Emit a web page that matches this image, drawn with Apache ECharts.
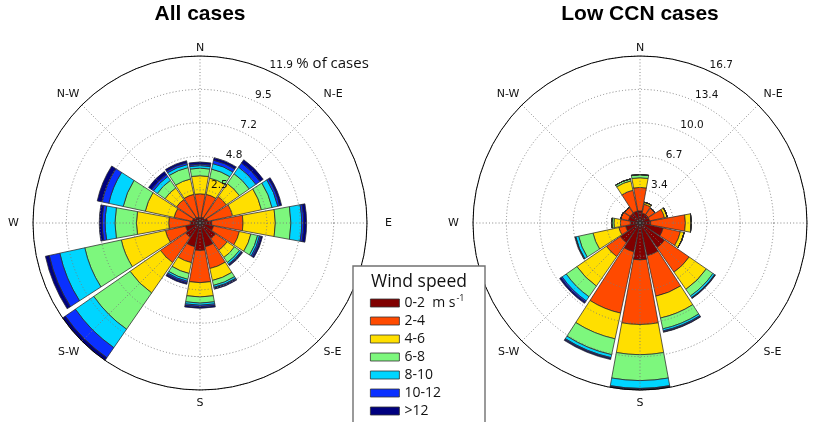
<!DOCTYPE html>
<html>
<head>
<meta charset="utf-8">
<script src="https://cdn.jsdelivr.net/npm/echarts@6/dist/echarts.min.js"></script>
<style>
  html, body { margin: 0; padding: 0; background: #ffffff; }
  #chart { width: 825px; height: 422px; }
</style>
</head>
<body>
<div id="chart"></div>
<script>
// Wind direction sectors (clockwise from north) and compass labels
const directions = ['N', 'NNE', 'NE', 'ENE', 'E', 'ESE', 'SE', 'SSE',
                    'S', 'SSW', 'SW', 'WSW', 'W', 'WNW', 'NW', 'NNW'];
const compassLabels = ['N', 'N-E', 'E', 'S-E', 'S', 'S-W', 'W', 'N-W'];

// Wind speed classes and their colours
const speedClasses = ['0-2', '2-4', '4-6', '6-8', '8-10', '10-12', '>12'];
const speedColors = ['#800000', '#ff4a00', '#ffdf00', '#7df77d', '#00d5ff', '#0a30ff', '#00007f'];

// All cases: % of cases per direction for each speed class
const allSpeed0to2   = [0.36, 0.43, 0.43, 0.56, 0.84, 0.98, 1.35, 1.73, 1.96, 1.73, 1.24, 1.05, 0.70, 0.56, 0.50, 0.43];
const allSpeed2to4   = [1.72, 1.66, 1.85, 1.82, 2.23, 1.89, 1.00, 1.59, 2.29, 1.16, 2.19, 1.47, 1.53, 1.33, 1.53, 1.66];
const allSpeed4to6   = [1.29, 1.18, 1.14, 2.10, 2.30, 0.84, 0.64, 0.87, 1.02, 0.79, 2.63, 3.22, 2.30, 2.10, 1.01, 1.12];
const allSpeed6to8   = [0.54, 0.66, 0.85, 0.77, 1.11, 0.49, 0.43, 0.36, 0.44, 0.43, 3.14, 2.66, 1.53, 1.61, 0.66, 0.83];
const allSpeed8to10  = [0.18, 0.40, 0.57, 0.42, 0.77, 0.14, 0.14, 0.14, 0.15, 0.14, 1.60, 1.82, 0.70, 1.05, 0.33, 0.22];
const allSpeed10to12 = [0.11, 0.25, 0.36, 0.14, 0.14, 0.11, 0.07, 0.07, 0.11, 0.11, 0.87, 0.77, 0.21, 0.49, 0.17, 0.14];
const allSpeedOver12 = [0.15, 0.18, 0.28, 0.14, 0.21, 0.11, 0.07, 0.07, 0.11, 0.11, 0.23, 0.28, 0.21, 0.35, 0.26, 0.14];

// Low CCN cases: % of cases per direction for each speed class
const lowSpeed0to2   = [1.22, 1.01, 1.00, 0.98, 1.07, 2.36, 2.99, 3.34, 3.69, 2.94, 2.39, 1.47, 0.98, 1.18, 1.20, 1.22];
const lowSpeed2to4   = [2.34, 0.91, 0.80, 1.52, 3.47, 1.77, 2.99, 4.15, 6.46, 6.28, 1.69, 0.69, 0.98, 0.79, 0.70, 2.13];
const lowSpeed4to6   = [0.97, 0.20, 0, 0.29, 0.59, 0.39, 2.09, 2.23, 3.02, 2.63, 3.59, 2.65, 0.65, 0, 0, 0.96];
const lowSpeed6to8   = [0.31, 0, 0, 0, 0, 0, 0.80, 1.11, 2.59, 1.62, 1.30, 1.47, 0.22, 0, 0, 0.20];
const lowSpeed8to10  = [0, 0, 0, 0, 0, 0, 0.20, 0.20, 0.78, 0.30, 0.50, 0.29, 0, 0, 0, 0];
const lowSpeed10to12 = [0, 0, 0, 0, 0, 0, 0.05, 0.10, 0.07, 0.10, 0.15, 0.05, 0, 0, 0, 0];
const lowSpeedOver12 = [0, 0, 0, 0, 0, 0, 0.05, 0.05, 0.09, 0.10, 0.15, 0.05, 0, 0, 0, 0];

// Radial scale of each rose and the ring labels printed on it
const allMax = 11.9, allStep = 2.38;
const allRingLabels = ['2.5', '4.8', '7.2', '9.5', '11.9'];
const lowMax = 16.7, lowStep = 3.34;
const lowRingLabels = ['3.4', '6.7', '10.0', '13.4', '16.7'];

const allSeriesData = [allSpeed0to2, allSpeed2to4, allSpeed4to6, allSpeed6to8, allSpeed8to10, allSpeed10to12, allSpeedOver12];
const lowSeriesData = [lowSpeed0to2, lowSpeed2to4, lowSpeed4to6, lowSpeed6to8, lowSpeed8to10, lowSpeed10to12, lowSpeedOver12];

const RADIUS = 167;
const GRID_COLOR = '#7a7a7a';

// Extra space around each compass label (top, right, bottom, left)
const compassPadding = [
  [0, 0, 0, 0], [0, 0, 4, 4], [0, 0, 0, 16], [4, 0, 0, 4],
  [6, 0, 0, 0], [4, 1, 0, 0], [0, 12, 0, 0], [0, 1, 4, 0]
];
const compassRich = {};
compassPadding.forEach((p, i) => {
  compassRich['d' + i] = { fontFamily: 'DejaVu Sans', fontSize: 11, color: '#111', padding: p };
});

const polar = [], angleAxis = [], radiusAxis = [], series = [];

function addRose(center, maxVal, step, ringLabels, seriesData, stackName, withUnit) {
  const base = polar.length;
  // 0: frame and grid, 1: bars, 2: ring labels
  for (let k = 0; k < 3; k++) polar.push({ center: center, radius: RADIUS });

  angleAxis.push({
    polarIndex: base, type: 'value', min: 0, max: 360, interval: 45,
    startAngle: 90, clockwise: true, z: 3,
    axisLine: { show: true, lineStyle: { color: '#000', width: 1 } },
    axisTick: { show: false },
    axisLabel: {
      show: true, margin: 2,
      formatter: v => { const i = Math.round(v / 45) % 8; return '{d' + i + '|' + compassLabels[i] + '}'; },
      rich: compassRich
    },
    splitLine: { show: true, lineStyle: { color: GRID_COLOR, width: 0.9, type: [1, 2.2] } }
  });
  radiusAxis.push({
    polarIndex: base, type: 'value', min: 0, max: maxVal, interval: step, z: 3,
    axisLine: { show: false }, axisTick: { show: false }, axisLabel: { show: false },
    splitLine: { show: true, lineStyle: { color: GRID_COLOR, width: 0.9, type: [1, 2.2] } }
  });

  angleAxis.push({
    polarIndex: base + 1, type: 'category', data: directions,
    startAngle: 90 + 360 / directions.length / 2, clockwise: true,
    axisLine: { show: false }, axisTick: { show: false }, axisLabel: { show: false },
    splitLine: { show: false }
  });
  radiusAxis.push({
    polarIndex: base + 1, type: 'value', min: 0, max: maxVal,
    axisLine: { show: false }, axisTick: { show: false }, axisLabel: { show: false },
    splitLine: { show: false }
  });

  angleAxis.push({
    polarIndex: base + 2, type: 'value', min: 0, max: 360, startAngle: 64,
    axisLine: { show: false }, axisTick: { show: false }, axisLabel: { show: false },
    splitLine: { show: false }
  });
  radiusAxis.push({
    polarIndex: base + 2, type: 'value', min: 0, max: maxVal, interval: step, z: 4,
    axisLine: { show: false }, axisTick: { show: false }, splitLine: { show: false },
    axisLabel: {
      show: true, margin: 4, align: 'left', verticalAlign: 'bottom',
      formatter: v => {
        const i = Math.round(v / step) - 1;
        if (i < 0 || i >= ringLabels.length) return '';
        if (withUnit && i === ringLabels.length - 1) return '{v|' + ringLabels[i] + '} {u|% of cases}';
        return '{v|' + ringLabels[i] + '}';
      },
      rich: {
        v: { fontFamily: 'DejaVu Sans', fontSize: 10.5, color: '#111', verticalAlign: 'bottom' },
        u: { fontFamily: 'Open Sans', fontSize: 15, color: '#111', verticalAlign: 'bottom' }
      }
    }
  });

  seriesData.forEach((vals, s) => {
    series.push({
      type: 'bar', coordinateSystem: 'polar', polarIndex: base + 1,
      name: speedClasses[s], stack: stackName, data: vals,
      barCategoryGap: '8%',
      itemStyle: { color: speedColors[s], borderColor: '#2a2a2a', borderWidth: 0.75 },
      emphasis: { disabled: true }
    });
  });
}

addRose([200, 223], allMax, allStep, allRingLabels, allSeriesData, 'all', true);
addRose([640, 223], lowMax, lowStep, lowRingLabels, lowSeriesData, 'low', false);

const option = {
  backgroundColor: '#ffffff',
  animation: false,
  color: speedColors,
  title: [
    { text: 'All cases', left: 200, top: 4, textAlign: 'center', padding: 0,
      textStyle: { fontFamily: 'Liberation Sans', fontSize: 21, fontWeight: 'bold', color: '#000' } },
    { text: 'Low CCN cases', left: 640, top: 4, textAlign: 'center', padding: 0,
      textStyle: { fontFamily: 'Liberation Sans', fontSize: 21, fontWeight: 'bold', color: '#000' } },
    { text: 'Wind speed', left: 419, top: 273, textAlign: 'center', padding: 0, z: 60,
      textStyle: { fontFamily: 'Open Sans', fontSize: 17.5, fontWeight: 'normal', color: '#111' } }
  ],
  graphic: {
    elements: [{
      type: 'rect', z: 50,
      shape: { x: 353, y: 266, width: 132, height: 170 },
      style: { fill: '#ffffff', stroke: '#707070', lineWidth: 1.4 }
    }]
  },
  legend: {
    data: speedClasses, orient: 'vertical', left: 370, top: 294, padding: 0, z: 60,
    itemWidth: 29, itemHeight: 8, itemGap: 0, icon: 'rect', selectedMode: false,
    itemStyle: { borderColor: '#333', borderWidth: 0.8 },
    formatter: name => name === speedClasses[0] ? name + '  {u|m s}{sup|-1}' : name,
    textStyle: {
      fontFamily: 'Open Sans', fontSize: 14, lineHeight: 18, color: '#111',
      rich: {
        u: { fontFamily: 'Open Sans', fontSize: 14, lineHeight: 18, color: '#111' },
        sup: { fontFamily: 'Open Sans', fontSize: 9, lineHeight: 18, color: '#111', verticalAlign: 'top', padding: [0, 0, 0, 1] }
      }
    }
  },
  polar: polar,
  angleAxis: angleAxis,
  radiusAxis: radiusAxis,
  series: series
};

const chart = echarts.init(document.getElementById('chart'), null, { renderer: 'canvas' });
chart.setOption(option);
</script>
</body>
</html>
